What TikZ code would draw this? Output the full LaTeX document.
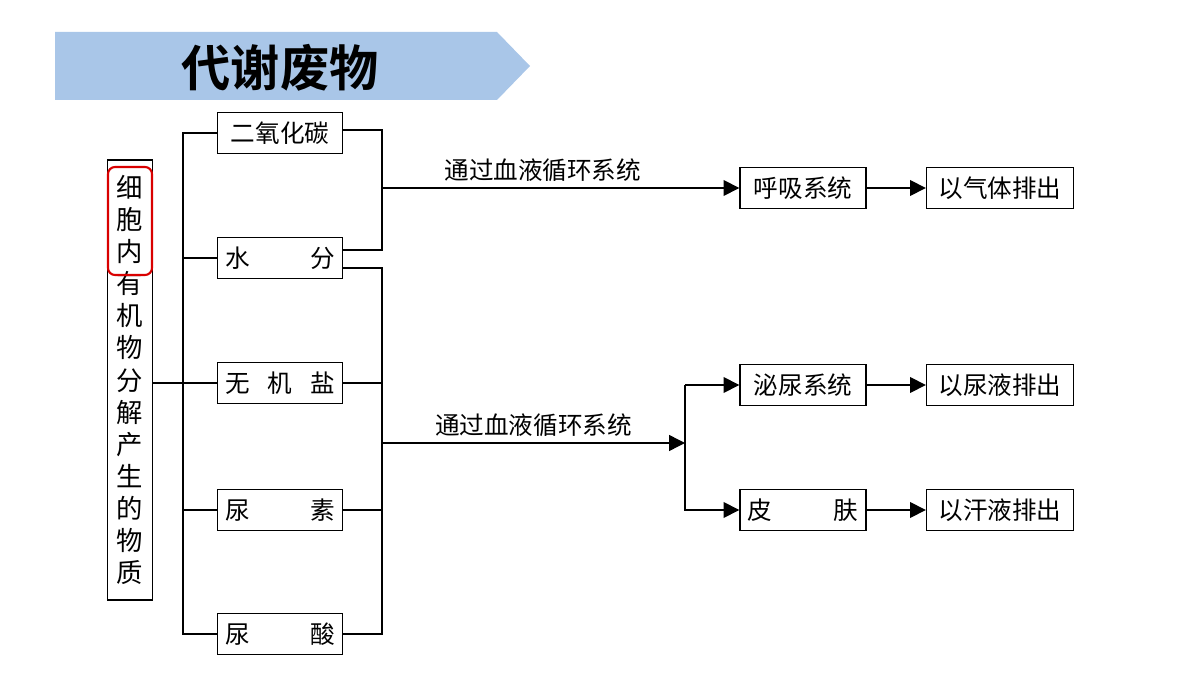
\documentclass[tikz,border=0pt]{standalone}
\usepackage{fontspec}
\newfontfamily\cjk{Noto Sans CJK SC}
\newfontfamily\cjkb{Noto Sans CJK SC Bold}
\usetikzlibrary{arrows.meta}
\definecolor{banner}{HTML}{A9C6E8}
\tikzset{
  box/.style={draw, thick, fill=white, minimum height=0.82cm, inner sep=0pt, font=\cjk\fontsize{14}{16}\selectfont},
  wire/.style={thick},
  flow/.style={thick, -{Triangle[length=9pt,width=9pt]}}
}
\begin{document}
\begin{tikzpicture}[x=0.02cm,y=-0.02cm]
		\useasboundingbox (0,0) rectangle (1200,675);
		%banner
		\fill[banner] (55,32) -- (497,32) -- (530,66) -- (497,100) -- (55,100) -- cycle;
		\node[font=\cjkb\fontsize{28}{30}\selectfont] (title) at (280,68) {代谢废物};
		
		%left column
		\node[draw, thick, minimum width=0.9cm, minimum height=8.8cm, inner sep=0pt,
		  font=\cjk\fontsize{15}{18.3}\selectfont, align=center] (src) at (130,380)
		  {细\\胞\\内\\有\\机\\物\\分\\解\\产\\生\\的\\物\\质};
		\draw[red!85!black, very thick, rounded corners=4pt] (108,167) rectangle (152,275);
		
		%substances
		\node[box, minimum width=2.5cm] (co2) at (280,133) {二氧化碳};
		\node[box, text width=2.2cm, minimum width=2.5cm, align=left] (h2o) at (280,258) {水\hfill 分};
		\node[box, text width=2.2cm, minimum width=2.5cm, align=left] (salt) at (280,383) {无\hfill 机\hfill 盐};
		\node[box, text width=2.2cm, minimum width=2.5cm, align=left] (urea) at (280,510) {尿\hfill 素};
		\node[box, text width=2.2cm, minimum width=2.5cm, align=left] (uric) at (280,634) {尿\hfill 酸};
		
		%organs and outputs
		\node[box, minimum width=2.52cm] (lung) at (803,188) {呼吸系统};
		\node[box, minimum width=2.52cm] (kid) at (803,385) {泌尿系统};
		\node[box, minimum width=2.52cm, text width=2.22cm, align=left] (skin) at (803,510) {皮\hfill 肤};
		\node[box, minimum width=2.94cm] (gas) at (1000,188) {以气体排出};
		\node[box, minimum width=2.94cm] (urine) at (1000,385) {以尿液排出};
		\node[box, minimum width=2.94cm] (sweat) at (1000,510) {以汗液排出};
		
		%left bus
		\coordinate (busT) at (183,133);
		\draw[wire] (src.east |- salt) -- (183,383);
		\draw[wire] (co2.west) -| (183,634) -- (uric.west);
		\foreach \n in {h2o,salt,urea} \draw[wire] (\n.west) -- (\n.west -| busT);
		
		%upper route
		\coordinate (up) at (382,188);
		\draw[wire] (co2.east |- 0,130) -| (382,250) -- (h2o.east |- 0,250);
		\draw[flow] (up) -- node[above, pos=0.45, font=\cjk\fontsize{14}{16}\selectfont] (lbl1) {通过血液循环系统} (lung.west);
		
		%lower route
		\coordinate (low) at (382,443);
		\coordinate (split) at (685,443);
		\draw[wire] (h2o.east |- 0,268) -| (382,634) -- (uric.east);
		\foreach \n in {salt,urea} \draw[wire] (\n.east) -- (382,0 |- \n.east);
		\draw[flow] (low) -- node[above, font=\cjk\fontsize{14}{16}\selectfont] (lbl2) {通过血液循环系统} (split);
		\draw[flow] (685,385) |- (kid.west);
		\draw[flow] (685,385) -- (685,510) -- (skin.west);
		
		\draw[flow] (lung) -- (gas);
		\draw[flow] (kid) -- (urine);
		\draw[flow] (skin) -- (sweat);
		\end{tikzpicture}
\end{document}
